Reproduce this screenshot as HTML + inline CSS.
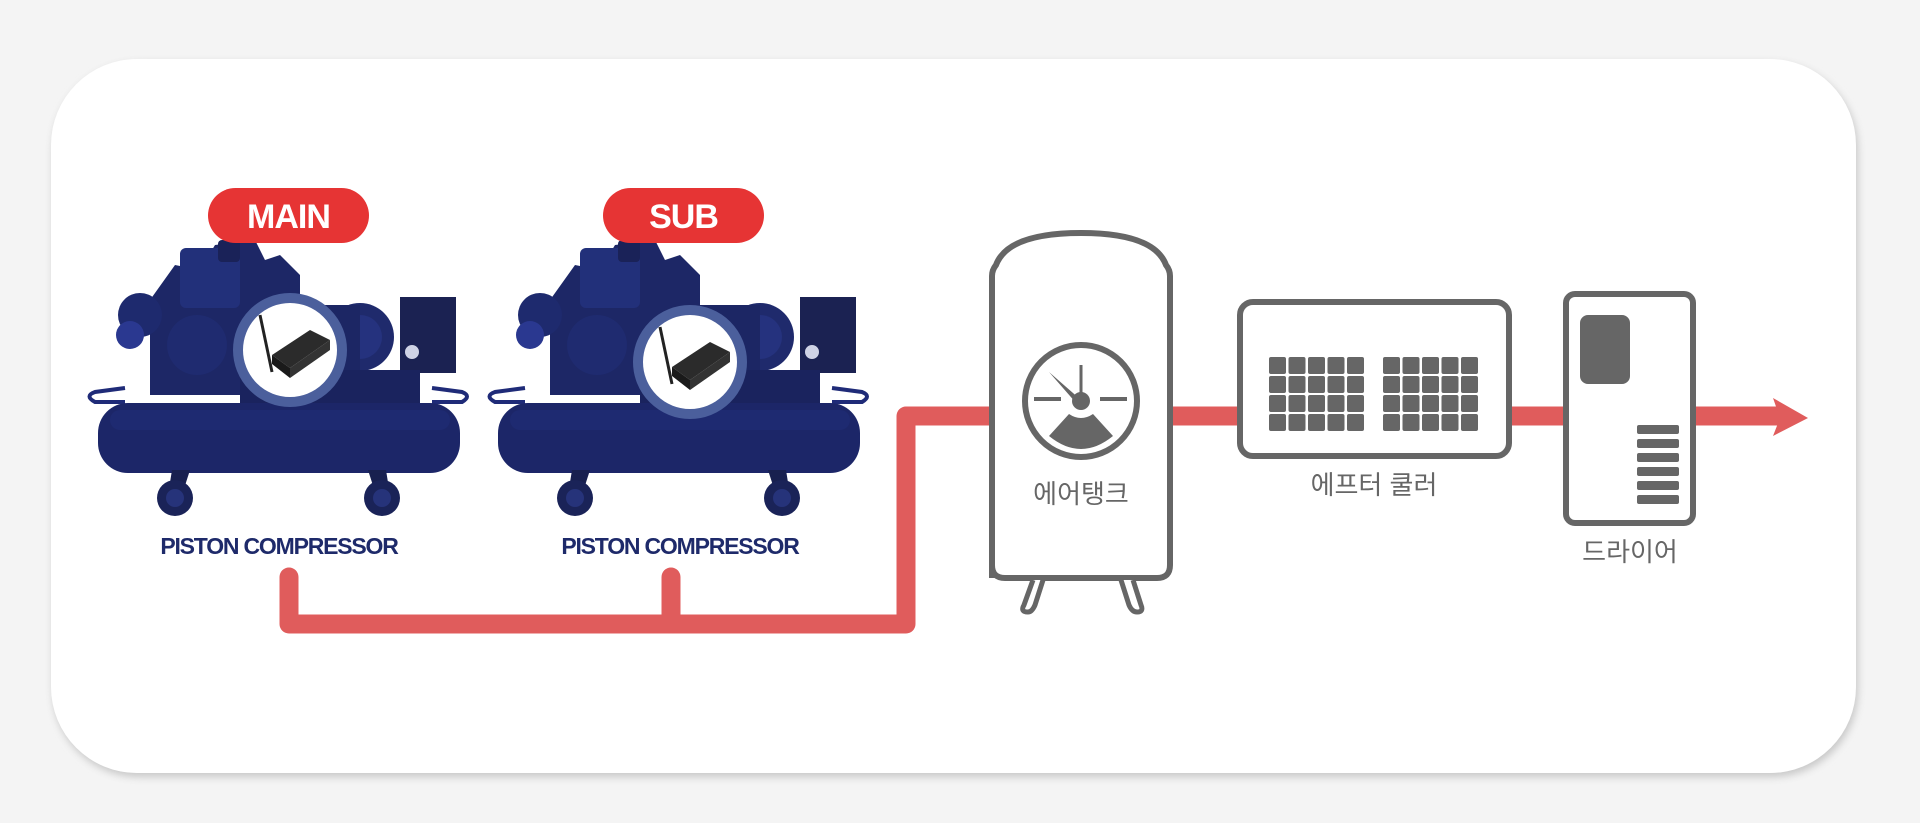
<!DOCTYPE html>
<html><head><meta charset="utf-8"><style>
html,body{margin:0;padding:0;background:#f4f4f4;}
body{width:1920px;height:823px;position:relative;overflow:hidden;font-family:"Liberation Sans","Noto Sans CJK KR",sans-serif;}
svg{position:absolute;left:0;top:0}
</style></head><body>
<svg width="1920" height="823" viewBox="0 0 1920 823" xmlns="http://www.w3.org/2000/svg">
<defs>
<filter id="sh" x="-5%" y="-5%" width="110%" height="110%"><feGaussianBlur stdDeviation="4"/></filter>
<g id="comp">
  <path d="M150 300 L175 265 L200 270 L215 245 L255 240 L265 260 L280 255 L300 275 L300 395 L150 395 Z" fill="#1d2766"/>
  <rect x="180" y="248" width="60" height="60" rx="6" fill="#22307a"/>
  <circle cx="140" cy="315" r="22" fill="#1e2a6e"/>
  <circle cx="130" cy="335" r="14" fill="#2a3890"/>
  <rect x="218" y="240" width="22" height="22" rx="4" fill="#1a2258"/>
  <circle cx="197" cy="345" r="30" fill="#1f2b70"/>
  <circle cx="360" cy="337" r="34" fill="#1f2a6c"/>
  <circle cx="360" cy="337" r="22" fill="#25327e"/>
  <rect x="300" y="305" width="60" height="85" fill="#1c2664"/>
  <rect x="400" y="297" width="56" height="76" fill="#1b2252"/>
  <circle cx="412" cy="352" r="8" fill="#cfd3e6" stroke="#1b2252" stroke-width="2"/>
  <rect x="240" y="370" width="180" height="35" fill="#1a235e"/>
  <path d="M125 388 L95 392 Q84 396 95 402 L125 402" fill="none" stroke="#1f2b78" stroke-width="4"/>
  <path d="M432 388 L462 392 Q472 396 462 402 L432 402" fill="none" stroke="#1f2b78" stroke-width="4"/>
  <rect x="98" y="403" width="362" height="70" rx="30" fill="#1c2668"/>
  <rect x="110" y="410" width="340" height="20" rx="10" fill="#202d78" opacity=".6"/>
  <path d="M172 470 L190 470 L182 495 L168 495Z" fill="#18204f"/>
  <path d="M368 470 L386 470 L390 495 L376 495Z" fill="#18204f"/>
  <circle cx="175" cy="498" r="18" fill="#1a2358"/>
  <circle cx="175" cy="498" r="9" fill="#26337a"/>
  <circle cx="382" cy="498" r="18" fill="#1a2358"/>
  <circle cx="382" cy="498" r="9" fill="#26337a"/>
</g>
<g id="dev">
  <circle cx="0" cy="0" r="52" fill="#fff" stroke="#4b5f9c" stroke-width="10"/>
  <line x1="-30" y1="-35" x2="-18" y2="22" stroke="#222" stroke-width="3"/>
  <path d="M-18 5 L20 -20 L40 -10 L0 18 Z" fill="#2b2b2b"/>
  <path d="M-18 5 L0 18 L0 28 L-18 14Z" fill="#1a1a1a"/>
  <path d="M0 18 L40 -10 L40 0 L0 28Z" fill="#333"/>
</g>
</defs>

<rect x="53" y="63" width="1805" height="714" rx="86" fill="#c8c8c8" filter="url(#sh)"/>
<rect x="51" y="59" width="1805" height="714" rx="86" fill="#fff"/>

<use href="#comp"/>
<use href="#comp" transform="translate(400,0)"/>
<use href="#dev" transform="translate(290,350)"/>
<use href="#dev" transform="translate(690,362)"/>

<rect x="208" y="188" width="161" height="55" rx="27.5" fill="#e63434"/>
<text x="288.5" y="228" text-anchor="middle" font-size="34" font-weight="bold" fill="#fff" letter-spacing="-1">MAIN</text>
<rect x="603" y="188" width="161" height="55" rx="27.5" fill="#e63434"/>
<text x="683.5" y="228" text-anchor="middle" font-size="34" font-weight="bold" fill="#fff" letter-spacing="-1">SUB</text>

<text x="279" y="554" text-anchor="middle" font-size="23" font-weight="bold" fill="#1e2a6a" letter-spacing="-1.2">PISTON COMPRESSOR</text>
<text x="680" y="554" text-anchor="middle" font-size="23" font-weight="bold" fill="#1e2a6a" letter-spacing="-1.2">PISTON COMPRESSOR</text>

<path d="M289 577 L289 624 L906 624 L906 416 L1780 416" fill="none" stroke="#e05c5c" stroke-width="19" stroke-linejoin="round" stroke-linecap="round"/>
<path d="M671 577 L671 624" stroke="#e05c5c" stroke-width="19" stroke-linecap="round"/>
<path d="M1773 398 L1808 418 L1773 436 L1780 418 Z" fill="#e05c5c"/>

<!-- tank -->
<path d="M992 578 L992 276 Q992 270 996 265 Q1008 233 1081 233 Q1154 233 1166 265 Q1170 270 1170 276 L1170 565 Q1170 578 1157 578 L1005 578 Q992 578 992 565Z" fill="#fff" stroke="#666" stroke-width="6"/>
<path d="M1033 580 L1024 605 Q1020 612 1028 612 Q1032 612 1035 605 L1043 580" fill="#fff" stroke="#666" stroke-width="5"/>
<path d="M1121 580 L1129 605 Q1132 612 1137 612 Q1144 612 1141 605 L1133 580" fill="#fff" stroke="#666" stroke-width="5"/>
<circle cx="1081" cy="401" r="56" fill="#fff" stroke="#666" stroke-width="6"/>
<line x1="1034" y1="399" x2="1061" y2="399" stroke="#666" stroke-width="4"/>
<line x1="1100" y1="399" x2="1127" y2="399" stroke="#666" stroke-width="4"/>
<line x1="1081" y1="365" x2="1081" y2="400" stroke="#666" stroke-width="3"/>
<path d="M1049 372 L1081 400 L1077 404 Z" fill="#666"/>
<circle cx="1081" cy="401" r="9" fill="#666"/>
<path d="M1049 436 L1069 414 Q1081 422 1093 414 L1113 436 Q1081 462 1049 436Z" fill="#666"/>
<text x="1081" y="503" text-anchor="middle" font-size="26" fill="#666">에어탱크</text>

<rect x="1240" y="302" width="269" height="154" rx="13" fill="#fff" stroke="#666" stroke-width="6"/>
<g fill="#666">
<g id="grid">
<rect x="1269" y="357" width="17" height="17" rx="2"/><rect x="1288.5" y="357" width="17" height="17" rx="2"/><rect x="1308" y="357" width="17" height="17" rx="2"/><rect x="1327.5" y="357" width="17" height="17" rx="2"/><rect x="1347" y="357" width="17" height="17" rx="2"/>
<rect x="1269" y="376" width="17" height="17" rx="2"/><rect x="1288.5" y="376" width="17" height="17" rx="2"/><rect x="1308" y="376" width="17" height="17" rx="2"/><rect x="1327.5" y="376" width="17" height="17" rx="2"/><rect x="1347" y="376" width="17" height="17" rx="2"/>
<rect x="1269" y="395" width="17" height="17" rx="2"/><rect x="1288.5" y="395" width="17" height="17" rx="2"/><rect x="1308" y="395" width="17" height="17" rx="2"/><rect x="1327.5" y="395" width="17" height="17" rx="2"/><rect x="1347" y="395" width="17" height="17" rx="2"/>
<rect x="1269" y="414" width="17" height="17" rx="2"/><rect x="1288.5" y="414" width="17" height="17" rx="2"/><rect x="1308" y="414" width="17" height="17" rx="2"/><rect x="1327.5" y="414" width="17" height="17" rx="2"/><rect x="1347" y="414" width="17" height="17" rx="2"/>
</g>
<use href="#grid" transform="translate(114,0)"/>
</g>
<text x="1374" y="494" text-anchor="middle" font-size="26" fill="#666">에프터 쿨러</text>

<rect x="1566" y="294" width="127" height="229" rx="9" fill="#fff" stroke="#666" stroke-width="6"/>
<rect x="1580" y="315" width="50" height="69" rx="8" fill="#666"/>
<g fill="#666">
<rect x="1637" y="425" width="42" height="9" rx="2"/>
<rect x="1637" y="439" width="42" height="9" rx="2"/>
<rect x="1637" y="453" width="42" height="9" rx="2"/>
<rect x="1637" y="467" width="42" height="9" rx="2"/>
<rect x="1637" y="481" width="42" height="9" rx="2"/>
<rect x="1637" y="495" width="42" height="9" rx="2"/>
</g>
<text x="1630" y="561" text-anchor="middle" font-size="26" fill="#666">드라이어</text>
</svg>
</body></html>
